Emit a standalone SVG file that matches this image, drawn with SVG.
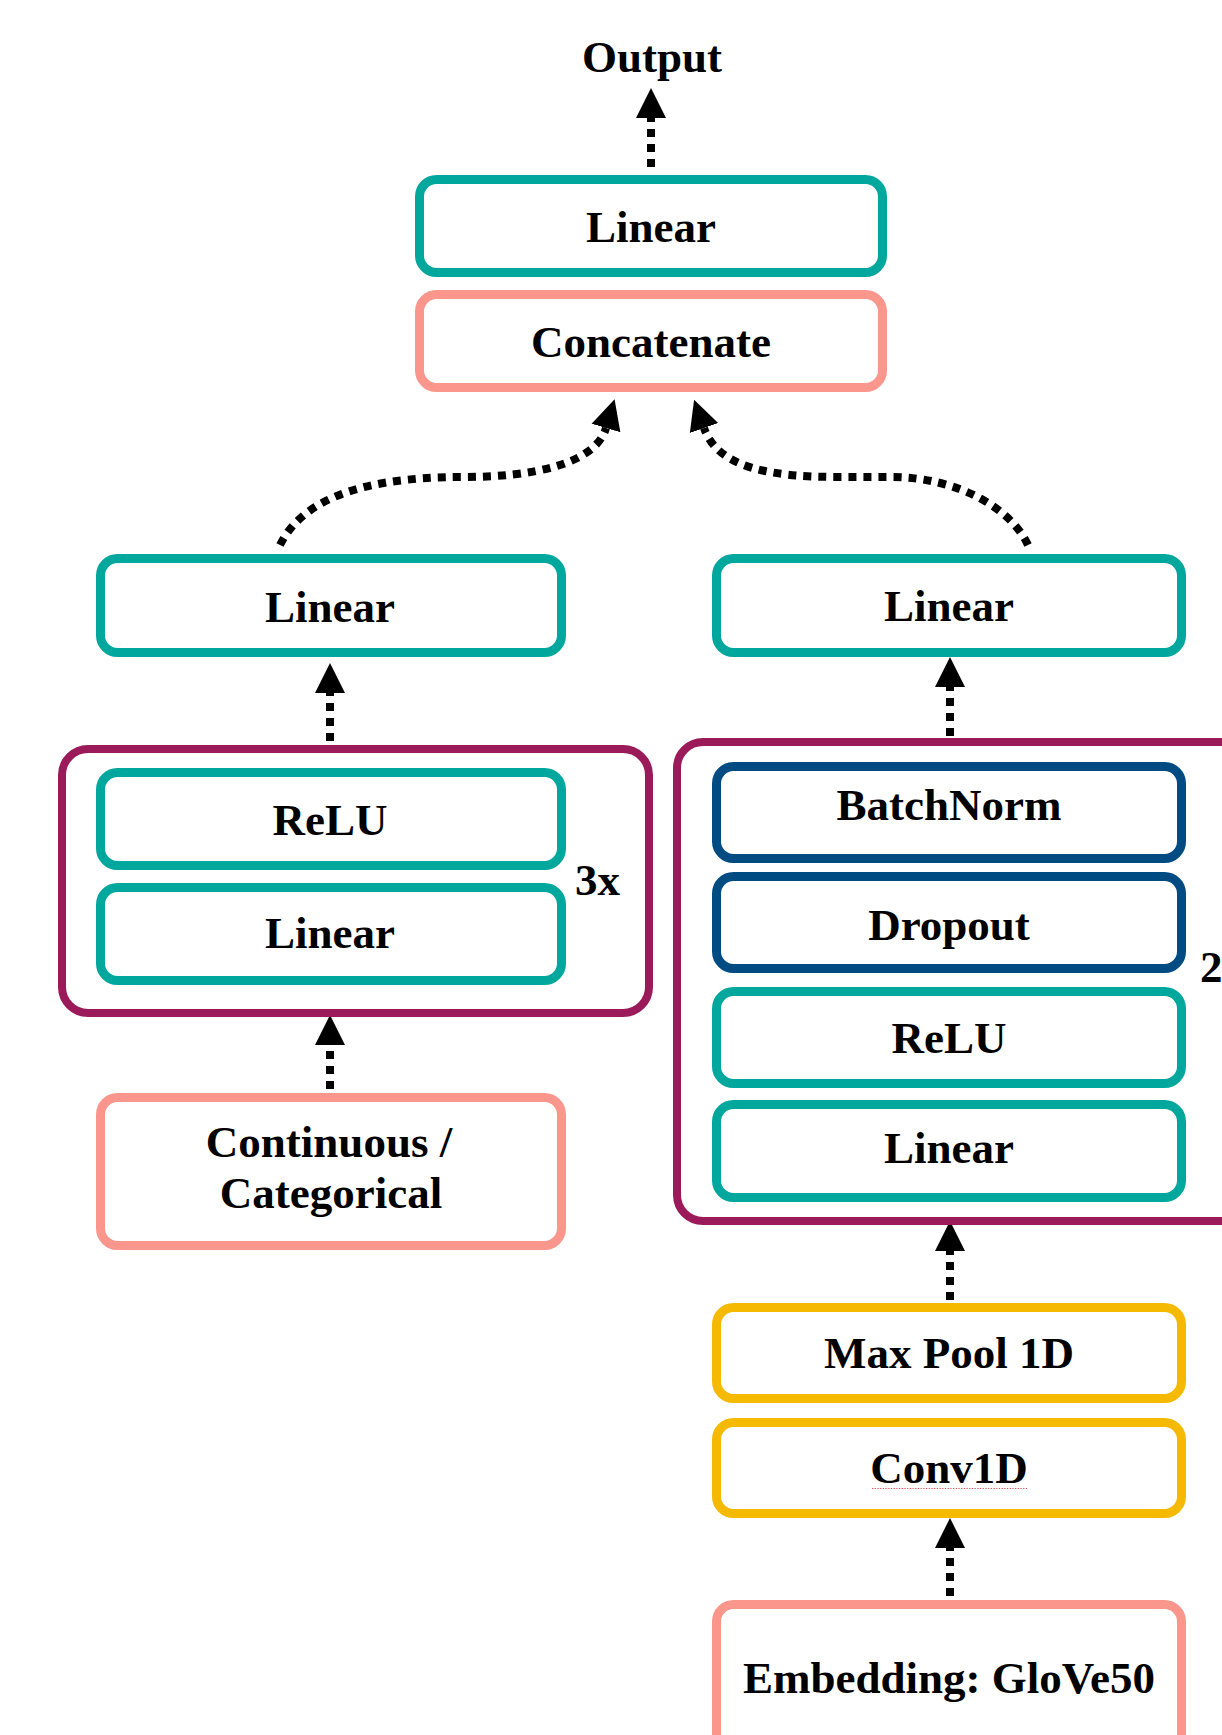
<svg xmlns="http://www.w3.org/2000/svg" width="1222" height="1735" viewBox="0 0 1222 1735">
<style>
.bg{fill:#ffffff}
.box{fill:#ffffff;stroke-width:9}
.teal{stroke:#00A79D}
.salmon{stroke:#FA968B}
.navy{stroke:#004B82}
.yellow{stroke:#F5BA00}
.loop{fill:#ffffff;stroke:#9B1B5A;stroke-width:8}
.lbl{font-family:"Liberation Serif","Times New Roman",serif;font-weight:bold;font-size:45px;fill:#000;text-anchor:middle}
.side{font-family:"Liberation Serif","Times New Roman",serif;font-weight:bold;font-size:45px;fill:#000;text-anchor:start}
.conn{fill:none;stroke:#000;stroke-width:8;stroke-dasharray:8 7;marker-end:url(#ah)}
</style>
<defs>
<marker id="ah" markerUnits="userSpaceOnUse" orient="auto" markerWidth="40" markerHeight="40" viewBox="0 -20 40 40" refX="0" refY="0">
<path d="M0,-15 L30,0 L0,15 z" fill="#000"/>
</marker>
</defs>
<rect class="bg" x="0" y="0" width="1222" height="1735"/>
<g id="connectors">
<path class="conn" d="M651,167 L651,118"/>
<path class="conn" d="M280,545 C300,505 350,477 463,477 C530,477 595,465 606,428"/>
<path class="conn" d="M1028,545 C1012,510 960,477 890,477 L840,477 C770,477 718,468 704,428"/>
<path class="conn" d="M330,741 L330,693"/>
<path class="conn" d="M330,1089 L330,1045"/>
<path class="conn" d="M950,736 L950,687"/>
<path class="conn" d="M950,1300 L950,1251"/>
<path class="conn" d="M950,1596 L950,1548"/>
</g>
<g id="n-output"><text class="lbl" x="652" y="72">Output</text></g>
<g id="n-linear-top"><rect class="box teal" x="419.5" y="179.5" width="463" height="93" rx="17"/><text class="lbl" x="651" y="242">Linear</text></g>
<g id="n-concat"><rect class="box salmon" x="419.5" y="294.5" width="463" height="93" rx="17"/><text class="lbl" x="651" y="357">Concatenate</text></g>
<g id="n-linear-left"><rect class="box teal" x="100.5" y="558.5" width="461" height="94" rx="17"/><text class="lbl" x="330" y="622">Linear</text></g>
<g id="n-linear-right"><rect class="box teal" x="716.5" y="558.5" width="465" height="94" rx="17"/><text class="lbl" x="949" y="621">Linear</text></g>
<g id="n-loop-left"><rect class="loop" x="62" y="749" width="587" height="264" rx="26"/><text class="side" x="575" y="895">3x</text></g>
<g id="n-relu-left"><rect class="box teal" x="100.5" y="772.5" width="461" height="93" rx="17"/><text class="lbl" x="330" y="835">ReLU</text></g>
<g id="n-linear-left2"><rect class="box teal" x="100.5" y="887.5" width="461" height="93" rx="17"/><text class="lbl" x="330" y="948">Linear</text></g>
<g id="n-input-left"><rect class="box salmon" x="100.5" y="1097.5" width="461" height="148" rx="17"/><text class="lbl" x="329" y="1157">Continuous /</text><text class="lbl" x="331" y="1208">Categorical</text></g>
<g id="n-loop-right"><rect class="loop" x="677" y="742" width="600" height="479" rx="26"/><text class="side" x="1200" y="982">2</text></g>
<g id="n-batchnorm"><rect class="box navy" x="716.5" y="766.5" width="465" height="92" rx="17"/><text class="lbl" x="949" y="820">BatchNorm</text></g>
<g id="n-dropout"><rect class="box navy" x="716.5" y="876.5" width="465" height="92" rx="17"/><text class="lbl" x="949" y="940">Dropout</text></g>
<g id="n-relu-right"><rect class="box teal" x="716.5" y="991.5" width="465" height="92" rx="17"/><text class="lbl" x="949" y="1053">ReLU</text></g>
<g id="n-linear-right2"><rect class="box teal" x="716.5" y="1104.5" width="465" height="93" rx="17"/><text class="lbl" x="949" y="1163">Linear</text></g>
<g id="n-maxpool"><rect class="box yellow" x="716.5" y="1307.5" width="465" height="91" rx="17"/><text class="lbl" x="949" y="1368">Max Pool 1D</text></g>
<g id="n-conv1d"><rect class="box yellow" x="716.5" y="1422.5" width="465" height="91" rx="17"/><text class="lbl" x="949" y="1483">Conv1D</text><line x1="872" y1="1488.5" x2="1027" y2="1488.5" stroke="#E8474F" stroke-width="1.2" stroke-dasharray="1.2 1.5"/></g>
<g id="n-embedding"><rect class="box salmon" x="716.5" y="1604.5" width="465" height="200" rx="17"/><text class="lbl" x="949" y="1693">Embedding: GloVe50</text></g>
</svg>
